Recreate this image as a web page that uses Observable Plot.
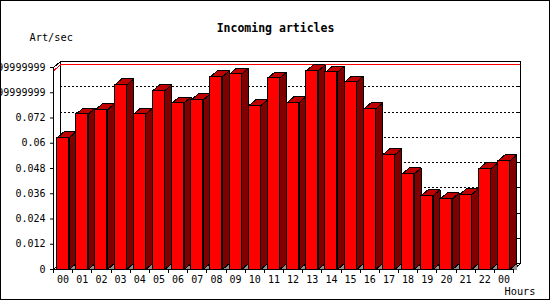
<!DOCTYPE html>
<html><head><meta charset="utf-8">
<script src="https://cdn.jsdelivr.net/npm/d3@7"></script>
<script src="https://cdn.jsdelivr.net/npm/@observablehq/plot@0.6"></script>
<style>
body{margin:0;background:#fff}
#chart svg{display:block;outline:1px solid #000;outline-offset:-1px;background:#fff}
</style></head><body><div id="chart"></div>
<script>
// ---- data ----
const hourLabels = ["00","01","02","03","04","05","06","07","08","09","10","11","12","13","14","15","16","17","18","19","20","21","22","00"];
const articlesPerSec = [0.0626,0.0739,0.0759,0.0877,0.0739,0.0850,0.0791,0.0806,0.0916,0.0929,0.0778,0.0910,0.0793,0.0944,0.0938,0.0891,0.0763,0.0546,0.0454,0.0351,0.0336,0.0356,0.0478,0.0516];
const yTicks = [0,0.012,0.024,0.036,0.048,0.06,0.072,0.084,0.096];
const yTickLabels = ["0","0.012","0.024","0.036","0.048","0.06","0.072","0.08399999999","0.09599999999"];
const titleText = "Incoming articles";
const yLabelText = "Art/sec";
const xLabelText = "Hours";

// ---- layout ----
const W = 550, H = 300;
const mL = 53, mR = 37, mT = 67, mB = 31;
const yMax = 0.096, nSlots = hourLabels.length;
const ppx = (W - mL - mR) / nSlots;
const ppy = (H - mT - mB) / yMax;
const DX = 7 / ppx, DY = 6 / ppy, HW = 6 / ppx; // 3D depth and half bar width in data units
const font = "DejaVu Sans Mono";

const bars = articlesPerSec.map((v, i) => ({i, c: i + 0.5, v, label: hourLabels[i]}));
const poly = (f) => bars.flatMap(b => f(b).map(([x, y]) => ({id: b.i, x, y})));
const sides = poly(({c, v}) => [[c+HW, v], [c+HW+DX, v+DY], [c+HW+DX, DY], [c+HW, 0]]);
const tops = poly(({c, v}) => [[c-HW, v], [c+HW, v], [c+HW+DX, v+DY], [c-HW+DX, v+DY]]);
const tris = poly(({c}) => [[c+HW, 0], [c+HW+DX, DY], [c+HW+DX, 0]]);
const maxV = d3.max(articlesPerSec);
const diag = (x, y, id) => [{id, x, y}, {id, x: x + DX, y: y + DY}];
const diagonals = [...diag(0, yMax, "tl"), ...diag(nSlots, 0, "br"), ...diag(0, 0, "bl")];
const crisp = {shapeRendering: "crispEdges"};

const chart = Plot.plot({
  width: W, height: H,
  marginLeft: mL, marginRight: mR, marginTop: mT, marginBottom: mB,
  style: {fontFamily: font, fontSize: "10px", color: "#000", background: "#fff"},
  x: {domain: [0, nSlots], ticks: bars.map(b => b.c), tickFormat: d => hourLabels[Math.floor(d)], tickSize: 0, tickPadding: 6, label: null},
  y: {domain: [0, yMax], ticks: yTicks, tickFormat: d => yTickLabels[yTicks.indexOf(d)], tickSize: 3, tickPadding: 5, label: null},
  marks: [
    // back plane grid (dotted) and frame
    Plot.ruleY(yTicks.slice(1, -1), {x1: 0, x2: nSlots, dx: 7, dy: -6, stroke: "#000", strokeDasharray: "2,2", ...crisp}),
    Plot.ruleY(yTicks, {x1: nSlots - 3 / ppx, x2: nSlots, dx: 7, dy: -6, stroke: "#000", ...crisp}),
    Plot.ruleY([yMax], {x1: 0, x2: nSlots, dx: 7, dy: -6, stroke: "#000", ...crisp}),
    Plot.ruleX([0, nSlots], {y1: 0, y2: yMax, dx: 7, dy: -6, stroke: "#000", ...crisp}),
    // max value line
    Plot.ruleY([maxV], {x1: 0, x2: nSlots, dx: 7, dy: -6, stroke: "#ff0000", ...crisp}),
    Plot.line(diag(0, maxV, "m"), {x: "x", y: "y", z: "id", stroke: "#ff0000", strokeWidth: 1, ...crisp}),
    Plot.line(diagonals, {x: "x", y: "y", z: "id", stroke: "#000", strokeWidth: 1, ...crisp}),
    // bars
    Plot.line(tris, {x: "x", y: "y", z: "id", curve: "linear-closed", fill: "#909090", stroke: "none", ...crisp}),
    Plot.line(sides, {x: "x", y: "y", z: "id", curve: "linear-closed", fill: "#800000", stroke: "#000", strokeWidth: 1, strokeLinejoin: "miter", strokeLinecap: "butt", ...crisp}),
    Plot.line(tops, {x: "x", y: "y", z: "id", curve: "linear-closed", fill: "#c00000", stroke: "#000", strokeWidth: 1, strokeLinejoin: "miter", strokeLinecap: "butt", ...crisp}),
    Plot.rect(bars, {x1: d => d.c - HW, x2: d => d.c + HW, y1: 0, y2: "v", fill: "#ff0000", stroke: "#000", strokeWidth: 1, ...crisp}),
    // front axes
    Plot.ruleX([0], {y1: 0, y2: yMax, stroke: "#000", ...crisp}),
    Plot.ruleY([0], {x1: 0, x2: nSlots, stroke: "#000", ...crisp}),
    Plot.ruleX(d3.range(nSlots + 1), {y1: 0, y2: -4 / ppy, stroke: "#000", ...crisp}),
    // texts
    Plot.text([titleText], {frameAnchor: "top", dx: -8, dy: -44, text: d => d, fontWeight: "bold", fontSize: 11.5, fill: "#000"}),
    Plot.text([yLabelText], {frameAnchor: "top-left", textAnchor: "start", dx: -24, dy: -34, text: d => d, fontSize: 10.3, fill: "#000"}),
    Plot.text([xLabelText], {frameAnchor: "bottom-right", textAnchor: "start", dx: -9, dy: 25, text: d => d, fontSize: 10.3, fill: "#000"})
  ]
});
document.getElementById("chart").append(chart);
</script></body></html>
